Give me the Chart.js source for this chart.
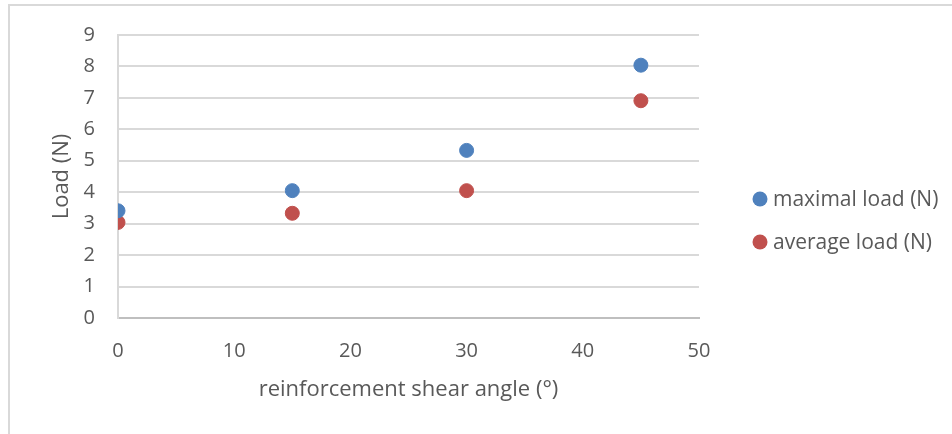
<!DOCTYPE html>
<html>
<head>
<meta charset="utf-8">
<script src="https://cdn.jsdelivr.net/npm/chart.js@4"></script>
<style>
    body { margin: 0; background: #fff; }
    #frame { position: absolute; left: 8px; top: 4px; width: 960px; height: 450px;
             border-left: 2px solid #d9d9d9; border-top: 2px solid #d9d9d9; }
    #chart { position: absolute; left: 0; top: 0; }
</style>
</head>
<body>
<div id="frame"></div>
<canvas id="chart" width="952" height="434"></canvas>
<script>
const angles = [0, 15, 30, 45];
const maxLoad = [3.41, 4.05, 5.33, 8.04];
const avgLoad = [3.04, 3.33, 4.05, 6.91];
const seriesNames = ['maximal load (N)', 'average load (N)'];
const seriesColors = ['#4f81bd', '#c0504d'];
const xTitle = 'reinforcement shear angle (°)';
const yTitle = 'Load (N)';

const FONT = '"Open Sans", sans-serif';
const TEXT = '#595959';

const toPoints = (ys) => angles.map((x, i) => ({ x: x, y: ys[i] }));

// legend drawn to the right of the plot, like the original
const sideLegend = {
    id: 'sideLegend',
    afterDraw(chart) {
        const ctx = chart.ctx;
        ctx.save();
        ctx.font = '21px ' + FONT;
        ctx.textBaseline = 'middle';
        ctx.textAlign = 'left';
        chart.data.datasets.forEach((ds, i) => {
            const y = 199 + i * 43;
            ctx.fillStyle = ds.backgroundColor;
            ctx.beginPath();
            ctx.arc(760, y, 7.5, 0, Math.PI * 2);
            ctx.fill();
            ctx.fillStyle = TEXT;
            ctx.fillText(ds.label, 773, y + 1);
        });
        ctx.restore();
    }
};

new Chart(document.getElementById('chart'), {
    type: 'scatter',
    data: {
        datasets: [
            { label: seriesNames[0], data: toPoints(maxLoad),
              backgroundColor: seriesColors[0], borderColor: seriesColors[0] },
            { label: seriesNames[1], data: toPoints(avgLoad),
              backgroundColor: seriesColors[1], borderColor: seriesColors[1] }
        ]
    },
    options: {
        responsive: false,
        animation: false,
        layout: { padding: { left: 48.8, top: 34, right: 253, bottom: 0 } },
        elements: { point: { radius: 7, borderWidth: 1, hoverRadius: 7 } },
        plugins: { legend: { display: false }, tooltip: { enabled: false } },
        scales: {
            x: {
                type: 'linear', min: 0, max: 50,
                ticks: { stepSize: 10, padding: 21, color: TEXT, font: { family: FONT, size: 20 } },
                grid: { display: false, drawTicks: false },
                border: { display: true, color: '#bfbfbf', width: 2 },
                title: { display: true, text: xTitle, color: TEXT,
                         font: { family: FONT, size: 22 }, padding: { top: 0, bottom: 30.8 } },
                afterFit(scale) { scale.height = 116; }
            },
            y: {
                type: 'linear', min: 0, max: 9,
                ticks: { stepSize: 1, padding: 23, color: TEXT, font: { family: FONT, size: 20 } },
                grid: { color: '#d9d9d9', lineWidth: 2, drawTicks: false },
                border: { display: true, color: '#d9d9d9', width: 2 },
                title: { display: true, text: yTitle, color: TEXT,
                         font: { family: FONT, size: 22 }, padding: 0 },
                afterFit(scale) { scale.width = 69.2; }
            }
        }
    },
    plugins: [sideLegend]
});
</script>
</body>
</html>
